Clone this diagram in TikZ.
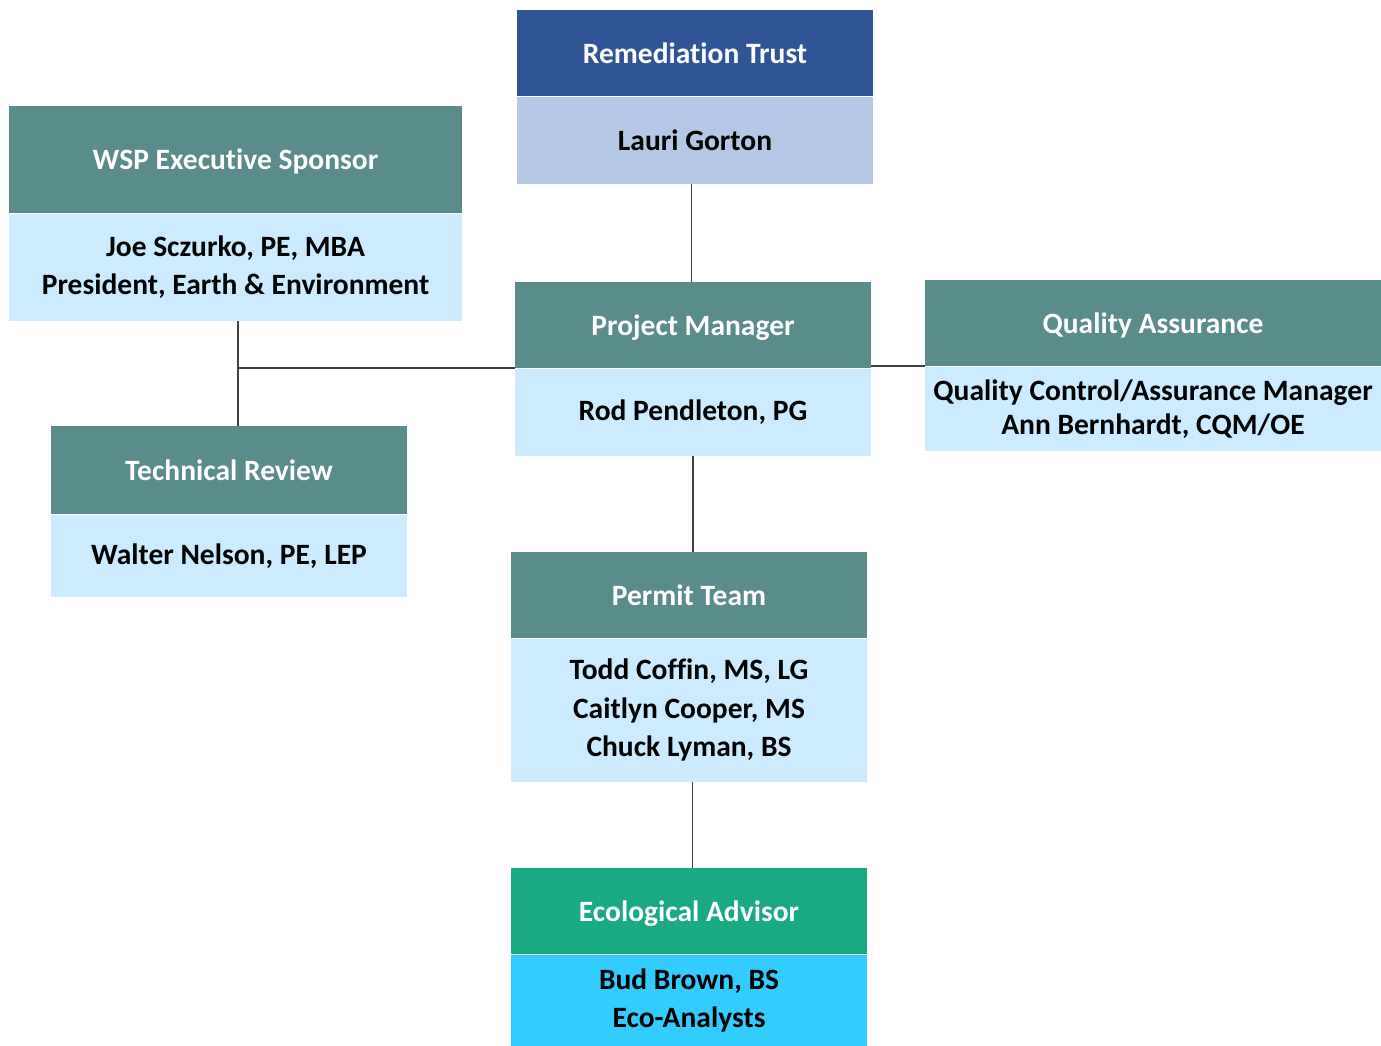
\documentclass[tikz,border=0pt]{standalone}
\usepackage{fontspec}
\setmainfont{Carlito}[Ligatures=NoCommon]
\usetikzlibrary{positioning}
\definecolor{trustblue}{HTML}{2F5597}
\definecolor{trustlight}{HTML}{B4C7E7}
\definecolor{wspteal}{HTML}{5A8C8B}
\definecolor{wsplight}{HTML}{CCEBFF}
\definecolor{ecogreen}{HTML}{19AA84}
\definecolor{ecocyan}{HTML}{33CCFF}
\tikzset{
  head/.style={fill=wspteal, text=white, inner sep=0pt, minimum width=7.12cm, minimum height=1.72cm,
    text height=0.5cm, text depth=0.1cm, font=\bfseries\fontsize{16.8}{19}\selectfont},
  body/.style={fill=wsplight, text=black, inner sep=0pt, minimum width=7.12cm, align=center,
    font=\bfseries\fontsize{16.8}{21.8}\selectfont},
  link/.style={draw=black!75, line width=1pt}
}

\begin{document}
\begin{tikzpicture}[x=0.02cm, y=-0.02cm]
  \useasboundingbox (0,0) rectangle (1381,1045);

  % remediation trust
  \node[head, fill=trustblue] (rt) at (695,53) {Remediation Trust};
  \node[body, fill=trustlight, below=0pt of rt, minimum height=1.74cm] (rtb) {Lauri Gorton};

  % executive sponsor
  \node[head, minimum width=9.06cm, minimum height=2.14cm] (wsp) at (235.5,159.5) {WSP Executive Sponsor};
  \node[body, below=0pt of wsp, minimum width=9.06cm, minimum height=2.14cm] (wspb)
    {Joe Sczurko, PE, MBA\\President, Earth \& Environment};

  % project manager
  \node[head] (pm) at (693,325) {Project Manager};
  \node[body, below=0pt of pm, minimum height=1.74cm] (pmb) {Rod Pendleton, PG};

  % quality assurance
  \node[head, minimum width=9.12cm] (qa) at (1153,323) {Quality Assurance};
  \node[body, below=0pt of qa, minimum width=9.12cm, minimum height=1.68cm,
    font=\bfseries\fontsize{16.8}{19.3}\selectfont] (qab)
    {Quality Control/Assurance Manager\\Ann Bernhardt, CQM/OE};

  % technical review
  \node[head, minimum height=1.76cm] (tr) at (229,470) {Technical Review};
  \node[body, below=0pt of tr, minimum height=1.64cm] (trb) {Walter Nelson, PE, LEP};

  % permit team
  \node[head] (pt) at (689,595) {Permit Team};
  \node[body, below=0pt of pt, minimum height=2.86cm] (ptb)
    {Todd Coffin, MS, LG\\Caitlyn Cooper, MS\\Chuck Lyman, BS};

  % ecological advisor
  \node[head, fill=ecogreen] (eco) at (689,911) {Ecological Advisor};
  \node[body, fill=ecocyan, below=0pt of eco, minimum height=1.82cm] (ecob)
    {Bud Brown, BS\\Eco-Analysts};

  % connectors
  \coordinate (wspdown) at ([xshift=1.5]wspb.south);
  \coordinate (junction) at (wspdown |- pm.south west);
  \draw[link] ([xshift=-2]rtb.south) -- ([xshift=-2]rtb.south |- pm.north);
  \draw[link] (wspdown) -- (wspdown |- tr.north);
  \draw[link] (pm.south west) -- (junction);
  \draw[link] (qa.south west) -- (qa.south west -| pm.east);
  \draw[link] (pmb.south) -- (pmb.south |- pt.north);
  \draw[link] ([xshift=2]ptb.south) -- ([xshift=2]ptb.south |- eco.north);
\end{tikzpicture}
\end{document}
